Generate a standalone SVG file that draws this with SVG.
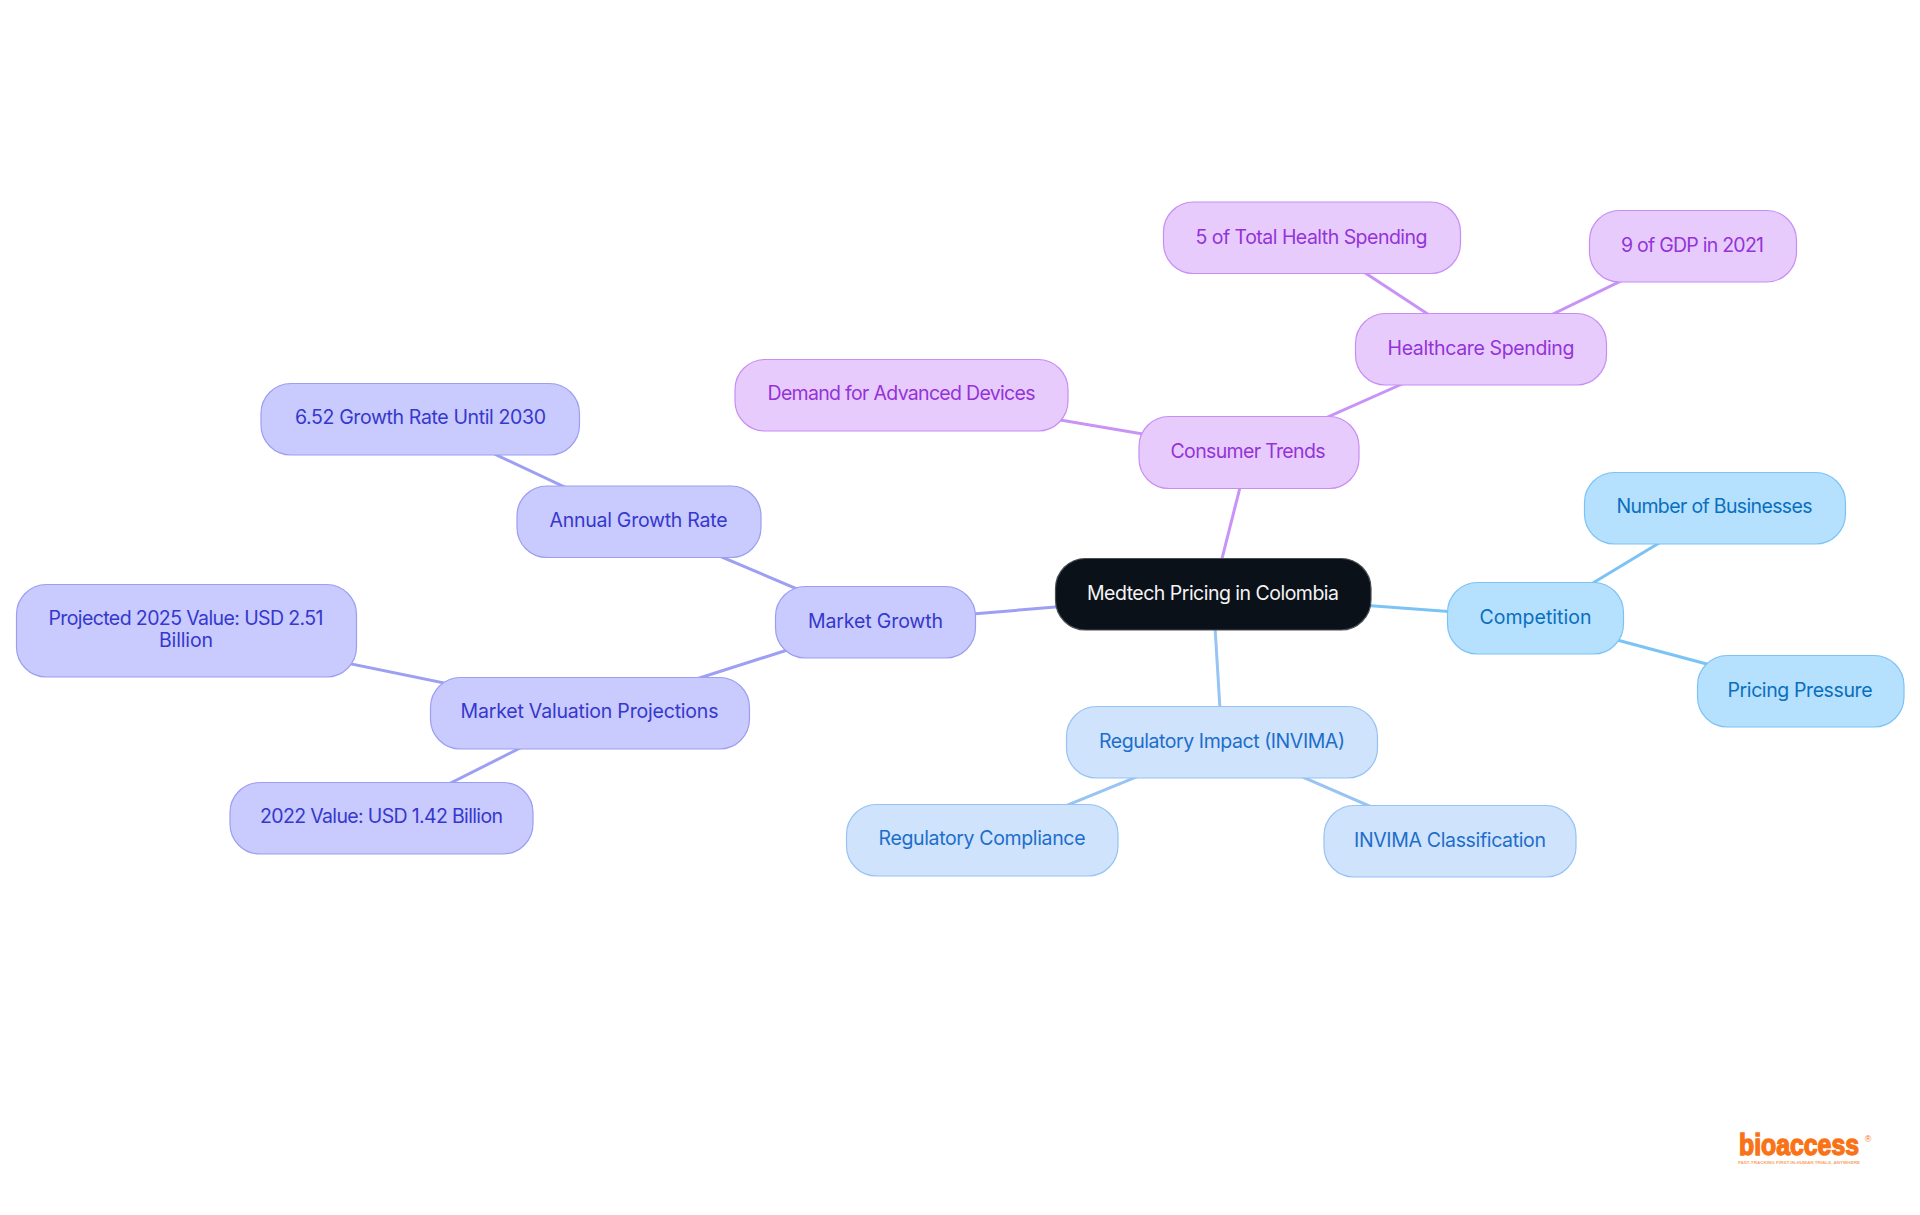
<svg xmlns="http://www.w3.org/2000/svg" width="1920" height="1215" viewBox="0 0 1920 1215">
<style>
text{font-family:Inter,"Noto Sans","Liberation Sans",sans-serif;font-size:19.5px;text-anchor:middle;dominant-baseline:central}
rect{rx:30px;ry:30px;stroke-width:1.2}
line{stroke-width:3;fill:none}
.r rect{fill:#0b1119;stroke:#4a4e55}.r text{fill:#f4f4f5}
.p rect{fill:#e8cbfd;stroke:#c78df3}.p text{fill:#9333d8}
.i rect{fill:#c9cafd;stroke:#9c9ef0}.i text{fill:#3538cd}
.b rect{fill:#cfe3fc;stroke:#96c2f4}.b text{fill:#1d6ecb}
.s rect{fill:#b5e0fe;stroke:#7cc3f5}.s text{fill:#0a6fbd}
.lp{stroke:#c893f7}.li{stroke:#9d9ff2}.lb{stroke:#98c4f4}.ls{stroke:#7cc3f5}
.logo{font-family:"Liberation Sans",sans-serif;fill:#f97316}
</style>
<g id="connectors">
<line class="lp" x1="1213" y1="594" x2="1249" y2="452"/>
<line class="lp" x1="1249" y1="452" x2="1481" y2="349"/>
<line class="lp" x1="1249" y1="452" x2="901" y2="393"/>
<line class="lp" x1="1481" y1="349" x2="1312" y2="238"/>
<line class="lp" x1="1481" y1="349" x2="1693" y2="246"/>
<line class="li" x1="1213" y1="594" x2="875" y2="622"/>
<line class="li" x1="875" y1="622" x2="639" y2="522"/>
<line class="li" x1="875" y1="622" x2="590" y2="713"/>
<line class="li" x1="639" y1="522" x2="420" y2="419"/>
<line class="li" x1="590" y1="713" x2="186" y2="630"/>
<line class="li" x1="590" y1="713" x2="381" y2="818"/>
<line class="lb" x1="1213" y1="594" x2="1222" y2="742"/>
<line class="lb" x1="1222" y1="742" x2="982" y2="840"/>
<line class="lb" x1="1222" y1="742" x2="1450" y2="841"/>
<line class="ls" x1="1213" y1="594" x2="1535" y2="618"/>
<line class="ls" x1="1535" y1="618" x2="1717" y2="508"/>
<line class="ls" x1="1535" y1="618" x2="1800" y2="689"/>
</g>
<g id="root" class="r"><rect x="1055.500" y="558.500" width="315.500" height="71.500"/><text x="1213" y="593" textLength="252">Medtech Pricing in Colombia</text></g>
<g id="consumer-trends" class="p"><rect x="1139" y="416.500" width="220" height="72"/><text x="1248" y="451" textLength="155">Consumer Trends</text></g>
<g id="healthcare-spending" class="p"><rect x="1355.500" y="313.500" width="251" height="71.500"/><text x="1481" y="347.500" textLength="187">Healthcare Spending</text></g>
<g id="demand" class="p"><rect x="735" y="359.500" width="333" height="71.500"/><text x="901.500" y="393" textLength="268">Demand for Advanced Devices</text></g>
<g id="total-health" class="p"><rect x="1163.500" y="202" width="297" height="71.500"/><text x="1311.500" y="236.500" textLength="232">5 of Total Health Spending</text></g>
<g id="gdp" class="p"><rect x="1589.500" y="210.500" width="207" height="71.500"/><text x="1692.500" y="245" textLength="143">9 of GDP in 2021</text></g>
<g id="market-growth" class="i"><rect x="775.500" y="586.500" width="200" height="71.500"/><text x="875.500" y="621" textLength="135">Market Growth</text></g>
<g id="annual-growth" class="i"><rect x="517" y="486" width="244" height="71.500"/><text x="638.500" y="520" textLength="178">Annual Growth Rate</text></g>
<g id="growth-rate" class="i"><rect x="261" y="383.500" width="318.500" height="71.500"/><text x="420.500" y="417" textLength="251">6.52 Growth Rate Until 2030</text></g>
<g id="valuation" class="i"><rect x="430.500" y="677.500" width="319" height="71.500"/><text x="589.500" y="711" textLength="258">Market Valuation Projections</text></g>
<g id="projected" class="i"><rect x="16.500" y="584.500" width="340" height="92.500"/><text x="186" y="618" textLength="275">Projected 2025 Value: USD 2.51</text><text x="186" y="640" textLength="54">Billion</text></g>
<g id="value-2022" class="i"><rect x="230" y="782.500" width="303" height="71.500"/><text x="381.500" y="816" textLength="243">2022 Value: USD 1.42 Billion</text></g>
<g id="regulatory-impact" class="b"><rect x="1066.500" y="706.500" width="311" height="71.500"/><text x="1222" y="741" textLength="246">Regulatory Impact (INVIMA)</text></g>
<g id="compliance" class="b"><rect x="846.500" y="804.500" width="271.500" height="71.500"/><text x="982" y="838" textLength="207">Regulatory Compliance</text></g>
<g id="classification" class="b"><rect x="1324" y="805.500" width="252" height="71.500"/><text x="1450" y="840" textLength="192">INVIMA Classification</text></g>
<g id="competition" class="s"><rect x="1447.500" y="582.500" width="176" height="71.500"/><text x="1535.500" y="617" textLength="112">Competition</text></g>
<g id="businesses" class="s"><rect x="1584.500" y="472.500" width="261" height="71.500"/><text x="1714.500" y="506" textLength="196">Number of Businesses</text></g>
<g id="pricing-pressure" class="s"><rect x="1697.500" y="655.500" width="206.500" height="71.500"/><text x="1800" y="690" textLength="145">Pricing Pressure</text></g>
<g id="logo">
<text class="logo" x="1799" y="1145" textLength="120" lengthAdjust="spacingAndGlyphs" style="font-size:29px;font-weight:700;stroke:#f97316;stroke-width:1.400">bioaccess</text>
<text class="logo" x="1868" y="1139" style="font-size:9px">®</text>
<text class="logo" x="1799" y="1163" textLength="122" lengthAdjust="spacingAndGlyphs" style="font-size:3.500px;font-weight:700;fill:#f9a56b">FAST-TRACKING FIRST-IN-HUMAN TRIALS, ANYWHERE</text>
</g>
</svg>
